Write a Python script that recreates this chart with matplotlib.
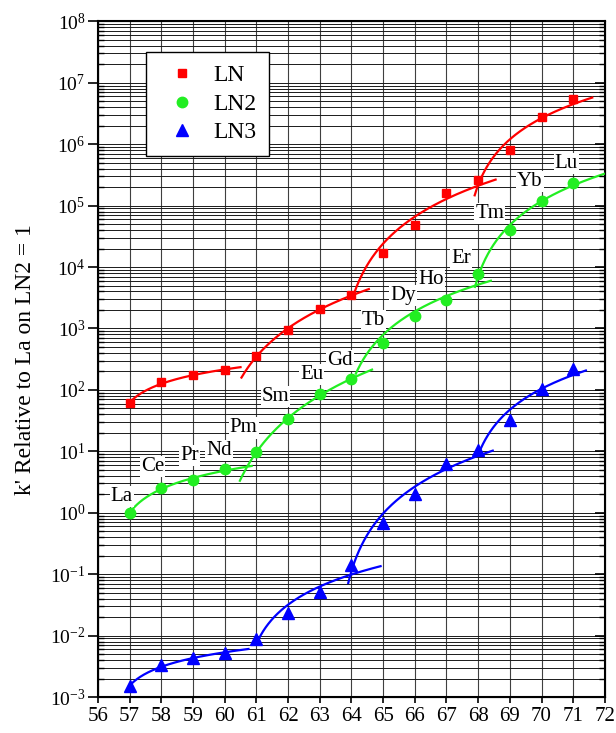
import numpy as np
import matplotlib
matplotlib.use('Agg')
import matplotlib.pyplot as plt
from matplotlib.ticker import LogLocator, NullFormatter

plt.rcParams['font.family'] = ['Liberation Serif', 'DejaVu Serif']
plt.rcParams['mathtext.fontset'] = 'stix'

# atomic number of each lanthanide
z = [57, 58, 59, 60, 61, 62, 63, 64, 65, 66, 67, 68, 69, 70, 71]
elements = ['La', 'Ce', 'Pr', 'Nd', 'Pm', 'Sm', 'Eu', 'Gd', 'Tb', 'Dy',
            'Ho', 'Er', 'Tm', 'Yb', 'Lu']

# k' relative to La on LN2
ln1 = [61, 132, 174, 209, 355, 960, 2090, 3450, 17000, 48000,
       162000, 257000, 790000, 2.77e6, 5.45e6]
ln2 = [1.0, 2.5, 3.4, 5.1, 9.8, 33, 87, 148, 590, 1600,
       2950, 7600, 40000, 120000, 234000]
ln3 = [0.0015, 0.0033, 0.0043, 0.0052, 0.0087, 0.0235, 0.051, 0.14, 0.69, 2.0,
       6.3, 10.4, 32, 105, 218]

# tetrad groups used for the fits (first z, last z)
groups = [(57, 60), (61, 64), (64, 68), (68, 71)]

# fit: log10 k' = a + b*ln(z - z0); drawn range (start, end) and z0 per group
fit_ranges = {
    'LN':  [(57.0, 60.5, 56.5), (60.53, 64.55, 59.5), (64.03, 68.55, 63.5), (67.89, 71.6, 67.5)],
    'LN2': [(57.0, 60.85, 56.5), (60.48, 64.65, 59.5), (64.14, 68.4, 63.5), (67.9, 72.0, 67.5)],
    'LN3': [(57.0, 60.75, 56.5), (61.0, 64.92, 60.5), (63.9, 68.46, 63.5), (68.02, 71.4, 67.5)],
}

# element label positions (z, log10 k')
label_pos = [(56.75, 0.27), (57.72, 0.75), (58.9, 0.93), (59.83, 1.02), (60.6, 1.38),
             (61.6, 1.89), (62.74, 2.25), (63.63, 2.48), (64.7, 3.13), (65.63, 3.54),
             (66.52, 3.80), (67.47, 4.14), (68.37, 4.87), (69.63, 5.39), (70.78, 5.69)]


def draw_fits(ax, vals, ranges, color):
    zz = np.array(z, dtype=float)
    lv = np.log10(np.array(vals, dtype=float))
    for (g0, g1), (xs, xe, x0) in zip(groups, ranges):
        m = (zz >= g0) & (zz <= g1)
        b, a = np.polyfit(np.log(zz[m] - x0), lv[m], 1)
        xf = np.linspace(xs, xe, 200)
        ax.plot(xf, 10 ** (a + b * np.log(xf - x0)), color=color, lw=1.6, zorder=3)


fig = plt.figure(figsize=(6.16, 7.33), dpi=100)
ax = fig.add_axes([0.159, 0.049, 0.823, 0.922])

red, green, blue = '#ff0000', '#22ee22', '#0000ff'

ax.plot(z, ln1, 's', color=red, ms=6, ls='none', label='LN', zorder=4)
ax.plot(z, ln2, 'o', color=green, ms=7.5, ls='none', label='LN2', zorder=4)
ax.plot(z, ln3, '^', color=blue, ms=8.5, ls='none', label='LN3', zorder=4)

draw_fits(ax, ln1, fit_ranges['LN'], red)
draw_fits(ax, ln2, fit_ranges['LN2'], green)
draw_fits(ax, ln3, fit_ranges['LN3'], blue)

for name, (xp, lp) in zip(elements, label_pos):
    ax.text(xp, 10 ** lp, name, fontsize=15, ha='center', va='center', zorder=5,
            bbox=dict(boxstyle='square,pad=0.05', fc='white', ec='none'))

ax.set_yscale('log')
ax.set_xlim(56, 72)
ax.set_ylim(1e-3, 1e8)
ax.set_xticks(range(56, 73))
ax.set_yticks([10.0 ** k for k in range(-3, 9)])
ax.yaxis.set_minor_locator(LogLocator(base=10, subs=np.arange(2, 10), numticks=100))
ax.yaxis.set_minor_formatter(NullFormatter())

ax.grid(True, which='major', axis='x', color='0.25', lw=0.8)
ax.grid(True, which='both', axis='y', color='0.1', lw=0.7)
ax.set_axisbelow(True)

ax.tick_params(axis='x', which='major', direction='out', length=4, width=1.2,
               labelsize=15, pad=3)
ax.tick_params(axis='y', which='major', direction='out', length=7, width=1.2,
               labelsize=14, pad=2)
ax.tick_params(axis='y', which='minor', direction='in', length=4, width=1.0)
for s in ax.spines.values():
    s.set_linewidth(1.5)

ax2 = ax.twinx()
ax2.set_yscale('log')
ax2.set_ylim(1e-3, 1e8)
ax2.set_yticks([10.0 ** k for k in range(-3, 9)])
ax2.yaxis.set_minor_locator(LogLocator(base=10, subs=np.arange(2, 10), numticks=100))
ax2.yaxis.set_minor_formatter(NullFormatter())
ax2.tick_params(axis='y', which='both', direction='in', labelright=False)
ax2.tick_params(axis='y', which='major', length=7, width=1.2)
ax2.tick_params(axis='y', which='minor', length=4, width=1.0)

ax.set_ylabel("k' Relative to La on LN2 = 1", fontsize=17, labelpad=10)

leg = ax.legend(loc='upper left', bbox_to_anchor=(0.2365, 0.9295),
                bbox_transform=fig.transFigure, fontsize=17, numpoints=1,
                frameon=True, fancybox=False, edgecolor='black', framealpha=1,
                borderpad=0.55, handlelength=2.0, handletextpad=0.3,
                labelspacing=0.3, borderaxespad=0)
leg.get_frame().set_linewidth(1.0)
leg.set_zorder(10)

fig.savefig('out.png', dpi=100)
